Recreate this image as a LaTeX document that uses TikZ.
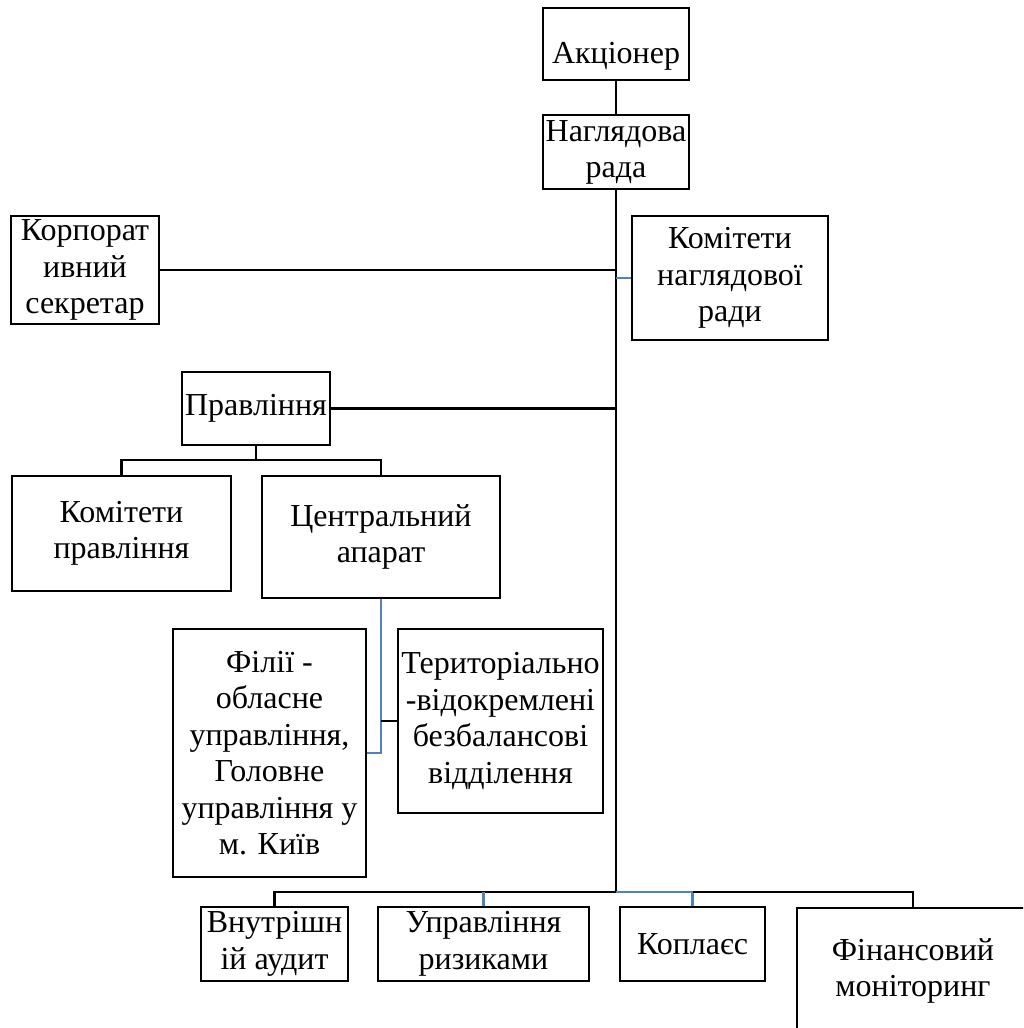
\documentclass[tikz,border=0pt]{standalone}
\usepackage{fontspec}
\setmainfont{Liberation Serif}
\usetikzlibrary{positioning}
\definecolor{linkblue}{RGB}{79,129,189}

\begin{document}
\begin{tikzpicture}[
	  x=1pt, y=-1pt,
	  box/.style={rectangle, draw=black, line width=2.3pt, align=center, inner sep=0pt, font=\fontsize{32}{36.5}\selectfont},
	  line/.style={line width=2.3pt},
	  blueline/.style={line width=2.3pt, draw=linkblue}
	]
	\clip (0,0) rectangle (1023,1028);

	\node (akcioner) [box, minimum width=146pt, minimum height=72pt, text height=38pt, text depth=0pt] at (616,44) {Акціонер};
	\node (rada) [box, minimum width=146pt, minimum height=74pt, below=33pt of akcioner] {Наглядова\\рада};
	\node (sekretar) [box, minimum width=148pt, minimum height=108pt] at (85,270) {Корпорат\\ивний\\секретар};
	\node (komrady) [box, minimum width=196pt, minimum height=124pt] at (730,278) {Комітети\\наглядової\\ради};
	\node (pravlinnya) [box, minimum width=148pt, minimum height=73pt] at (256,408.5) {Правління};
	\node (kompravl) [box, minimum width=219pt, minimum height=115pt] at (121.5,533.5) {Комітети\\правління};
	\node (centr) [box, minimum width=238pt, minimum height=122pt] at (381,537) {Центральний\\апарат};
	\node (filii) [box, minimum width=193pt, minimum height=248pt] at (269.5,753) {Філії -\\обласне\\управління,\\Головне\\управління у\\м. Київ};
	\node (terviddil) [box, minimum width=205pt, minimum height=184pt] at (500.5,721) {Територіально\\-відокремлені\\безбалансові\\відділення};
	\node (audyt) [box, minimum width=147pt, minimum height=74pt] at (274.5,944) {Внутрішн\\ій аудит};
	\node (ryzyky) [box, minimum width=211pt, minimum height=74pt] at (483.5,944) {Управління\\ризиками};
	\node (komplaens) [box, minimum width=145pt, minimum height=74pt] at (692.5,944) {Коплаєс};
	\node (finmon) [box, minimum width=232pt, minimum height=126pt] at (913,971) {Фінансовий\\моніторинг};

	\coordinate (bus) at (616,892);
	\coordinate (pbus) at ([yshift=-14pt]pravlinnya.south);

	\draw [line] (akcioner) -- (rada);
	\draw [line] (rada) -- (bus);
	\draw [line] (sekretar) -- (sekretar -| bus);
	\draw [blueline] (komrady) -- (komrady -| bus);
	\draw [line] (pravlinnya) -- (pravlinnya -| bus);
	\draw [line] (pravlinnya) -- (pbus) -| (kompravl);
	\draw [line] (pbus) -| (centr);
	\draw [blueline] (centr) |- (filii);
	\draw [line] (terviddil) -- (terviddil -| centr);
	\draw [line] (bus) -| (audyt);
	\draw [blueline] (bus -| ryzyky) -- (ryzyky);
	\draw [blueline] (bus) -| (komplaens);
	\draw [line] (bus -| komplaens) -| (finmon);

	\end{tikzpicture}
\end{document}
